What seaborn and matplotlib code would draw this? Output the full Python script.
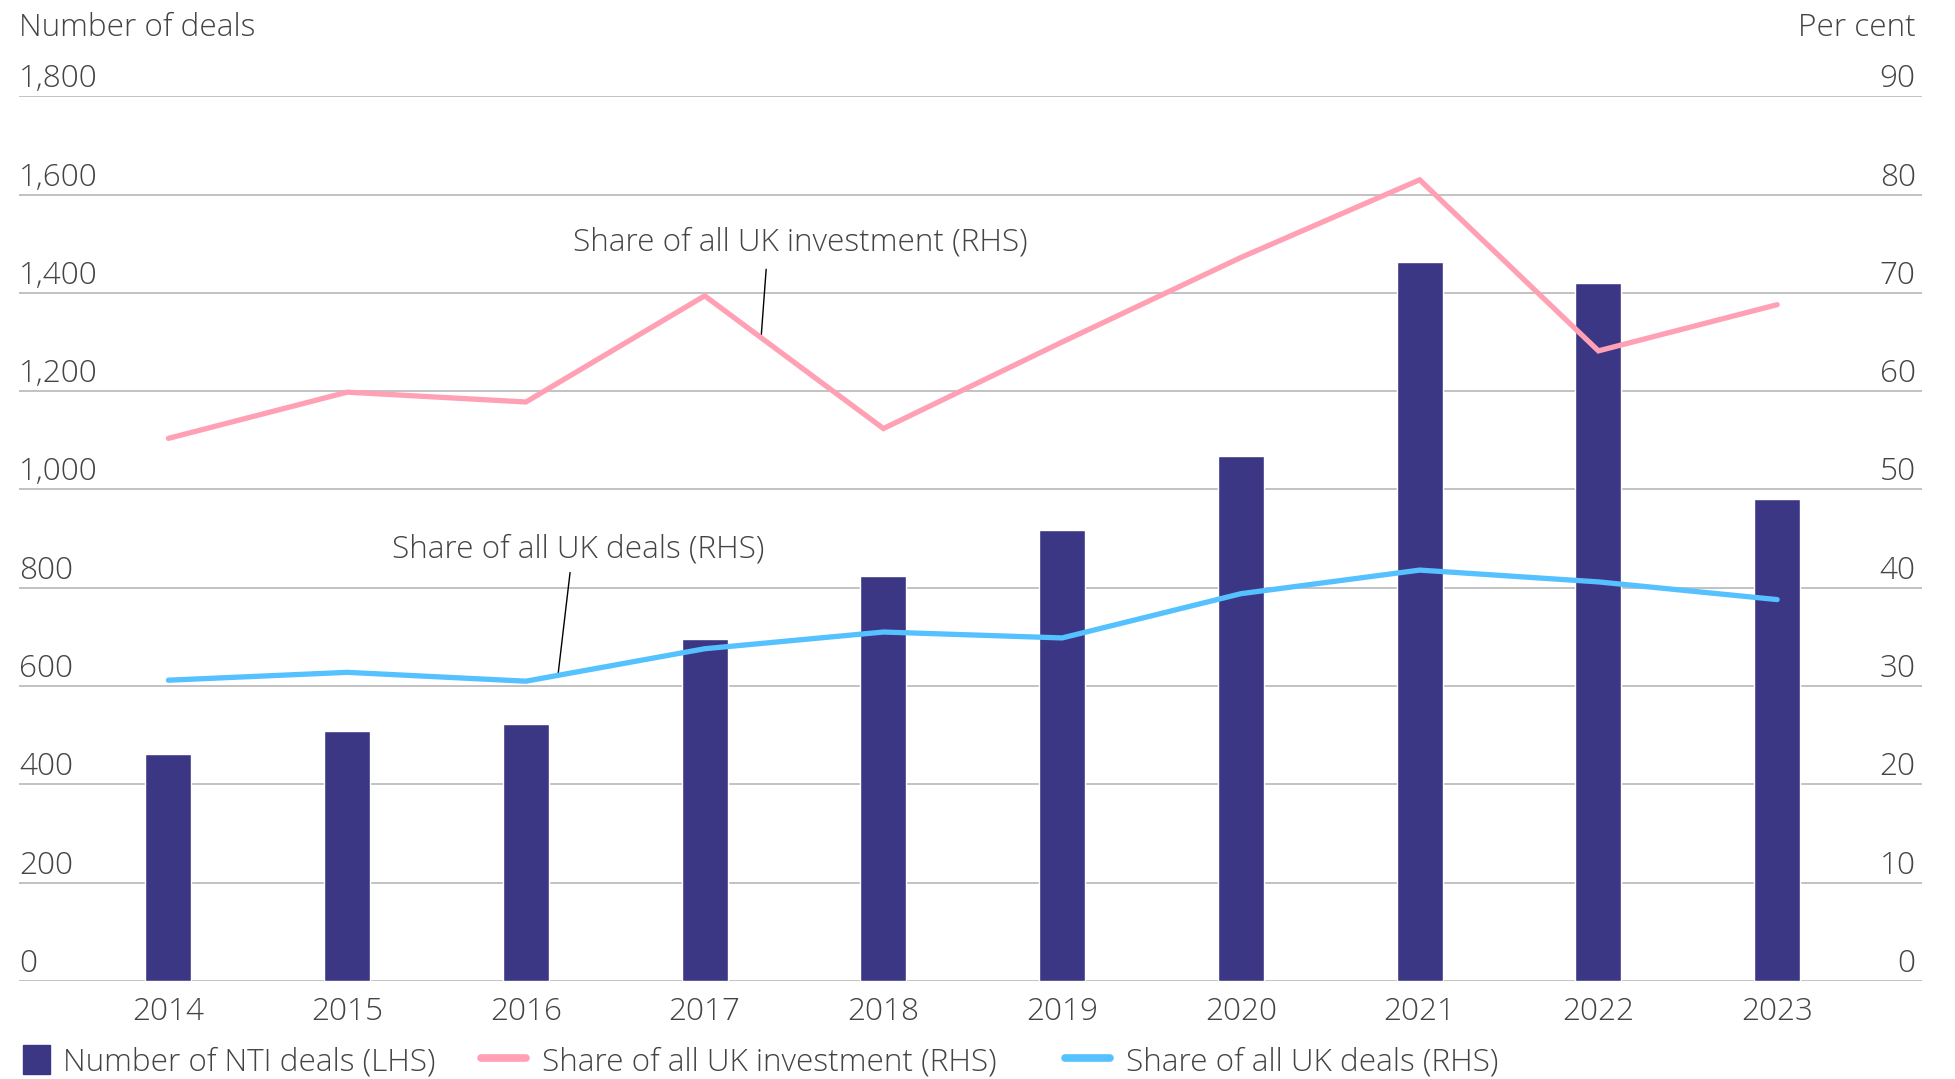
import matplotlib
matplotlib.use('Agg')
import matplotlib.pyplot as plt
import matplotlib.transforms as mtransforms
from matplotlib.patches import Patch, Rectangle
from matplotlib.lines import Line2D
from matplotlib.legend_handler import HandlerPatch
import numpy as np
import pandas as pd
import seaborn as sns

years = ['2014', '2015', '2016', '2017', '2018', '2019', '2020', '2021', '2022', '2023']
nti_deals = [462, 508, 523, 696, 825, 917, 1069, 1462, 1420, 980]
share_investment = [55.2, 59.9, 58.9, 69.7, 56.2, 65.0, 73.6, 81.5, 64.1, 68.8]
share_deals = [30.6, 31.4, 30.5, 33.8, 35.5, 34.9, 39.4, 41.8, 40.6, 38.8]

lhs_ticks = [0, 200, 400, 600, 800, 1000, 1200, 1400, 1600, 1800]
rhs_ticks = [0, 10, 20, 30, 40, 50, 60, 70, 80, 90]

bar_col = '#3c3784'
pink = '#ffa0b4'
blue = '#55c1ff'
txt = '#444444'
grid_col = '#b8b8b8'

sns.set_style('white')
plt.rcParams['font.family'] = ['Open Sans', 'DejaVu Sans']
plt.rcParams['font.weight'] = 'light'

df = pd.DataFrame({'year': years, 'deals': nti_deals,
                   'inv': share_investment, 'share': share_deals})
df['pos'] = np.arange(len(df))

fig = plt.figure(figsize=(19.56, 10.79), dpi=100)
ax = fig.add_axes([0.0097, 0.0908, 0.9729, 0.82])
xlim = (-0.836, 9.81)

sns.barplot(data=df, x='year', y='deals', color=bar_col, width=0.258,
            saturation=1, ax=ax, zorder=3)
ax.set_ylim(0, 1800)
ax.set_xlim(*xlim)
for v in lhs_ticks:
    ax.axhline(v, color=grid_col, lw=1.2, zorder=1)

ax2 = ax.twinx()
sns.lineplot(data=df, x='pos', y='inv', color=pink, lw=3.8, ax=ax2,
             solid_capstyle='round', solid_joinstyle='miter', zorder=4)
sns.lineplot(data=df, x='pos', y='share', color=blue, lw=3.8, ax=ax2,
             solid_capstyle='round', solid_joinstyle='miter', zorder=4)
ax2.set_ylim(0, 90)
ax2.set_xlim(*xlim)

for a in (ax, ax2):
    a.set_yticks([])
    a.set_xlabel('')
    a.set_ylabel('')
    for s in a.spines.values():
        s.set_visible(False)

fs = 22.7
ax.tick_params(axis='x', length=0, pad=11, labelsize=fs, labelcolor=txt)

up = mtransforms.ScaledTranslation(0, 1/100, fig.dpi_scale_trans)
tl = mtransforms.blended_transform_factory(ax.transAxes, ax.transData)
for v in lhs_ticks:
    ax.text(0.0, v, f'{v:,}', transform=tl + up,
            ha='left', va='bottom', fontsize=fs, color=txt)
tr = mtransforms.blended_transform_factory(ax2.transAxes, ax2.transData)
for v in rhs_ticks:
    ax2.text(0.9967, v, f'{v}', transform=tr + up,
             ha='right', va='bottom', fontsize=fs, color=txt)

fig.text(0.0097, 0.967, 'Number of deals', ha='left', va='baseline', fontsize=fs, color=txt)
fig.text(0.9796, 0.967, 'Per cent', ha='right', va='baseline', fontsize=fs, color=txt)

# in-chart labels with leader lines
ax2.text(3.534, 74.3, 'Share of all UK investment (RHS)', ha='center', va='baseline',
         fontsize=fs, color=txt)
ax2.annotate('', xy=(3.316, 65.5), xytext=(3.344, 72.4),
             arrowprops=dict(arrowstyle='-', color='black', lw=1, shrinkA=0, shrinkB=0))
ax2.text(2.290, 43.1, 'Share of all UK deals (RHS)', ha='center', va='baseline',
         fontsize=fs, color=txt)
ax2.annotate('', xy=(2.178, 30.9), xytext=(2.247, 41.55),
             arrowprops=dict(arrowstyle='-', color='black', lw=1, shrinkA=0, shrinkB=0))


def narrow_box(legend, orig_handle, xdescent, ydescent, width, height, fontsize):
    w = 27 * 72 / 100
    return Rectangle((width - xdescent - w + 2, -ydescent), w, height)


leg_kw = dict(loc='lower left', frameon=False, fontsize=fs, labelcolor=txt,
              handlelength=1.43, handleheight=1.0, handletextpad=0.5,
              columnspacing=1.45, borderaxespad=0)

# legend: the third entry sits a little further right, so it gets its own box
fig.legend([Patch(color=bar_col), Line2D([0], [0], color=pink, lw=5.5, solid_capstyle='round')],
           ['Number of NTI deals (LHS)', 'Share of all UK investment (RHS)'],
           bbox_to_anchor=(-0.0054, -0.011), ncol=2,
           handler_map={Patch: HandlerPatch(patch_func=narrow_box)}, **leg_kw)
fig.legend([Line2D([0], [0], color=blue, lw=5.5, solid_capstyle='round')],
           ['Share of all UK deals (RHS)'],
           bbox_to_anchor=(0.5382, -0.011), ncol=1, **leg_kw)

fig.savefig('out.png', dpi=100)
